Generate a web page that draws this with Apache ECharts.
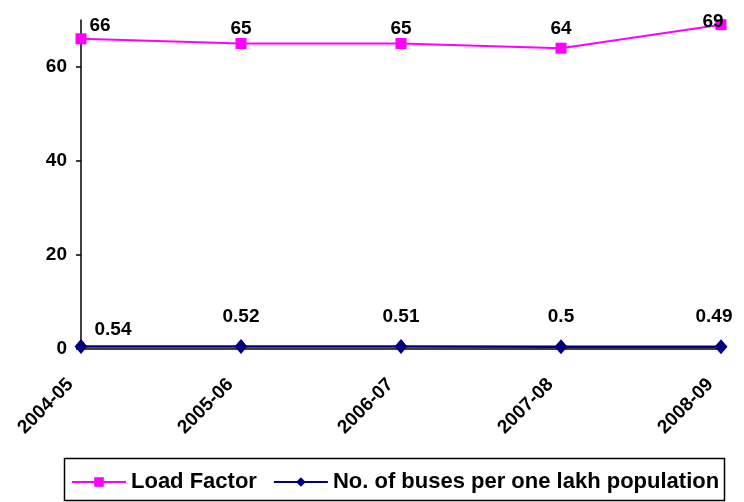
<!DOCTYPE html>
<html>
<head>
<meta charset="utf-8">
<script src="https://cdn.jsdelivr.net/npm/echarts@6/dist/echarts.min.js"></script>
<style>html,body{margin:0;padding:0;background:#fff}#c{width:744px;height:502px}</style>
</head>
<body>
<div id="c"></div>
<script>
const categories = ['2004-05', '2005-06', '2006-07', '2007-08', '2008-09'];
const loadFactor = [66, 65, 65, 64, 69];
const busesPerLakh = [0.54, 0.52, 0.51, 0.5, 0.49];
const yTicks = [0, 20, 40, 60];

// label nudges (presentation only)
const lfLabelOffsets = [[19, 2], [0, 0], [0, 0], [0, -4], [-8, 12]];
const busLabelOffsets = [[32, 13], [0, 0], [0, 0], [0, 0], [-7, 0]];

const FONT = 'Liberation Sans, Arial, sans-serif';
const chart = echarts.init(document.getElementById('c'), null, {renderer: 'canvas'});

const lfData = loadFactor.map((v, i) => ({value: v, label: {offset: lfLabelOffsets[i]}}));
const busData = busesPerLakh.map((v, i) => ({value: v, label: {offset: busLabelOffsets[i]}}));

chart.setOption({
  animation: false,
  backgroundColor: '#fff',
  grid: {left: 81, right: 23, top: 20, bottom: 153, containLabel: false},
  xAxis: {
    type: 'category',
    data: categories,
    boundaryGap: false,
    axisLine: {show: true, lineStyle: {color: '#000', width: 1.5}},
    axisTick: {show: false},
    axisLabel: {rotate: 45, margin: 22, padding: [0, 15, 0, 0], color: '#000', fontFamily: FONT, fontWeight: 'bold', fontSize: 19}
  },
  yAxis: {
    type: 'value',
    min: 0, max: 70, interval: 10,
    splitLine: {show: false},
    axisLine: {show: true, lineStyle: {color: '#000', width: 1.5}},
    axisTick: {show: true, inside: false, length: 5, lineStyle: {color: '#000', width: 1.5}, customValues: yTicks},
    axisLabel: {margin: 14, color: '#000', fontFamily: FONT, fontWeight: 'bold', fontSize: 19, customValues: yTicks}
  },
  legend: {
    left: 66, top: 466,
    itemWidth: 54, itemHeight: 12, itemGap: 16,
    textStyle: {color: '#000', fontFamily: FONT, fontWeight: 'bold', fontSize: 22},
    data: ['Load Factor', 'No. of buses per one lakh population']
  },
  graphic: [{
    type: 'rect', left: 62, top: 456,
    shape: {width: 660, height: 42},
    style: {fill: 'none', stroke: '#000', lineWidth: 1.5}
  }],
  series: [
    {
      name: 'Load Factor', type: 'line', data: lfData,
      symbol: 'rect', symbolSize: 11,
      lineStyle: {color: '#FF00FF', width: 2},
      itemStyle: {color: '#FF00FF'},
      label: {show: true, position: 'top', distance: 0, color: '#000', fontFamily: FONT, fontWeight: 'bold', fontSize: 19}
    },
    {
      name: 'No. of buses per one lakh population', type: 'line', data: busData,
      symbol: 'diamond', symbolSize: [13, 15],
      lineStyle: {color: '#000080', width: 2.5},
      itemStyle: {color: '#000080'},
      label: {show: true, position: 'top', distance: 13, color: '#000', fontFamily: FONT, fontWeight: 'bold', fontSize: 19}
    }
  ]
});
</script>
</body>
</html>
